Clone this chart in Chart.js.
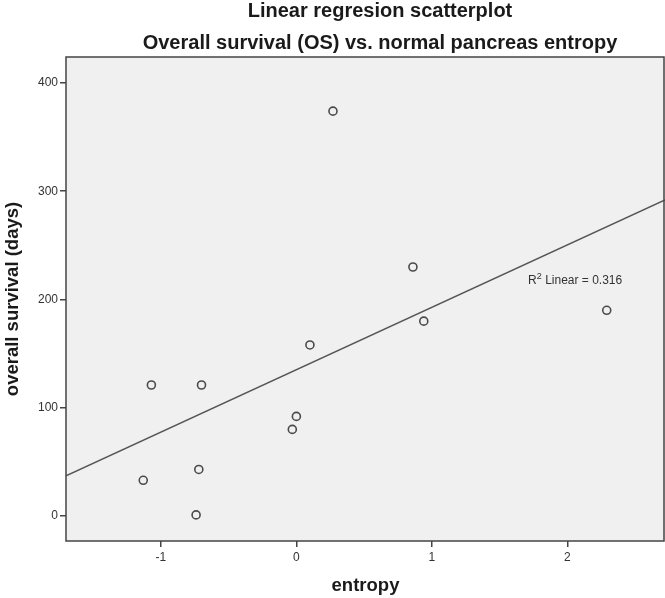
<!DOCTYPE html>
<html>
<head>
<meta charset="utf-8">
<script src="https://cdn.jsdelivr.net/npm/chart.js@4"></script>
<style>
    html, body { margin: 0; padding: 0; background: #ffffff; }
    #wrap { width: 665px; height: 598px; }
</style>
</head>
<body>
<div id="wrap"><canvas id="chart"></canvas></div>
<script>
const entropy = [0.27, 0.86, 0.94, 2.29, 0.10, -1.07, -0.70, 0.00, -0.03, -0.72, -1.13, -0.74];
const survivalDays = [374, 230, 180, 190, 158, 121, 121, 92, 80, 43, 33, 1];
const fitX = [-1.70, 2.72];
const fitY = [37, 292];
const xTicks = [-1, 0, 1, 2];
const yTicks = [0, 100, 200, 300, 400];
const titles = ["Linear regresion scatterplot", "Overall survival (OS) vs. normal pancreas entropy"];
const rSquared = "0.316";

const FONT = "'Liberation Sans', Arial, sans-serif";

const frame = {
    id: "frame",
    beforeDraw(chart) {
        const { ctx, chartArea: a } = chart;
        ctx.save();
        ctx.fillStyle = "#f0f0f0";
        ctx.fillRect(a.left, a.top, a.right - a.left, a.bottom - a.top);
        ctx.restore();
    },
    afterDraw(chart) {
        const { ctx, chartArea: a, scales } = chart;
        ctx.save();
        ctx.strokeStyle = "#444444";
        ctx.lineWidth = 1.5;
        ctx.strokeRect(a.left, a.top, a.right - a.left - 1, a.bottom - a.top);

        // titles (the original chart was cropped on the right, so they sit off centre)
        ctx.fillStyle = "#1a1a1a";
        ctx.textAlign = "center";
        ctx.textBaseline = "alphabetic";
        ctx.font = "bold 20px " + FONT;
        ctx.fillText(titles[0], 380, 17);
        ctx.fillText(titles[1], 380, 49);

        // R squared annotation
        const x = scales.x.getPixelForValue(1.71);
        const y = scales.y.getPixelForValue(214);
        ctx.textAlign = "left";
        ctx.fillStyle = "#333333";
        ctx.font = "12px " + FONT;
        ctx.fillText("R", x, y);
        let w = ctx.measureText("R").width;
        ctx.font = "9px " + FONT;
        ctx.fillText("2", x + w, y - 5);
        w += ctx.measureText("2").width;
        ctx.font = "12px " + FONT;
        ctx.fillText(" Linear = " + rSquared, x + w, y);
        ctx.restore();
    }
};

const ctx = document.getElementById("chart").getContext("2d");

new Chart(ctx, {
    type: "scatter",
    data: {
        datasets: [
            {
                label: "fit",
                type: "line",
                data: fitX.map((x, i) => ({ x: x, y: fitY[i] })),
                borderColor: "#555555",
                borderWidth: 1.5,
                pointRadius: 0,
                fill: false
            },
            {
                label: "cases",
                data: entropy.map((x, i) => ({ x: x, y: survivalDays[i] })),
                pointRadius: 4,
                pointBorderWidth: 1.6,
                pointBorderColor: "#4a4a4a",
                pointBackgroundColor: "rgba(0,0,0,0)"
            }
        ]
    },
    options: {
        responsive: true,
        maintainAspectRatio: false,
        animation: false,
        layout: { padding: { top: 57, left: 0, right: 0, bottom: 0 }, autoPadding: false },
        plugins: {
            legend: { display: false },
            tooltip: { enabled: false },
            title: { display: false }
        },
        scales: {
            x: {
                type: "linear",
                min: -1.70,
                max: 2.72,
                afterBuildTicks: (scale) => { scale.ticks = xTicks.map(v => ({ value: v })); },
                afterFit: (scale) => { scale.height = 57; },
                grid: { drawOnChartArea: false, tickLength: 6, color: "#444444", lineWidth: 1.5 },
                border: { display: false },
                ticks: { color: "#333333", font: { family: FONT, size: 12 }, padding: 3, maxRotation: 0 },
                title: {
                    display: true,
                    text: "entropy",
                    color: "#1a1a1a",
                    font: { family: FONT, size: 18.5, weight: "bold" },
                    padding: { top: 0, bottom: 1 }
                }
            },
            y: {
                type: "linear",
                min: -23.1,
                max: 424,
                afterBuildTicks: (scale) => { scale.ticks = yTicks.map(v => ({ value: v })); },
                afterFit: (scale) => { scale.width = 66; },
                grid: { drawOnChartArea: false, tickLength: 6, color: "#444444", lineWidth: 1.5 },
                border: { display: false },
                ticks: { color: "#333333", font: { family: FONT, size: 12 }, padding: 2 },
                title: {
                    display: true,
                    text: "overall survival (days)",
                    color: "#1a1a1a",
                    font: { family: FONT, size: 18.5, weight: "bold" },
                    padding: { top: 2, bottom: 0 }
                }
            }
        }
    },
    plugins: [frame]
});
</script>
</body>
</html>
